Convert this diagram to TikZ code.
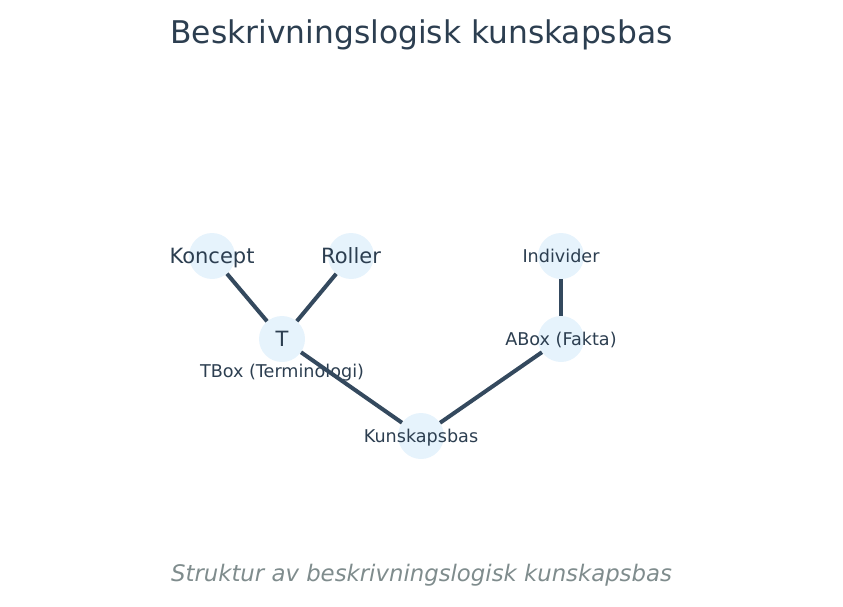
\documentclass[tikz,border=0pt]{standalone}
\usepackage{fontspec}
\setmainfont{DejaVu Sans}
\usepackage{tikz}
\definecolor{ink}{HTML}{2C3E50}
\definecolor{edge}{HTML}{34495E}
\definecolor{bubble}{HTML}{E6F3FC}
\definecolor{muted}{HTML}{7F8C8D}
\tikzset{
    dl/.style={circle, fill=bubble, minimum size=46pt, inner sep=0pt},
    bigtxt/.style={text=ink, text height=15.3pt, text depth=0pt, font=\fontsize{21}{21}\selectfont},
    smalltxt/.style={text=ink, text height=12.8pt, text depth=0pt, font=\fontsize{17.6}{17.6}\selectfont},
    link/.style={draw=edge, line width=4pt}
}
\begin{document}
\begin{tikzpicture}[x=1pt, y=-1pt]
    \useasboundingbox (0,0) rectangle (843,607);
    \node[text=ink, text height=22.8pt, text depth=0pt, font=\fontsize{31.3}{31.3}\selectfont] (title) at (421.5,32) {Beskrivningslogisk kunskapsbas};
    \node[dl, label={[bigtxt]center:Koncept}] (koncept) at (212,256) {};
    \node[dl, label={[bigtxt]center:Roller}] (roller) at (351,256) {};
    \node[dl, label={[bigtxt]center:T}] (tbox) at (282,339) {};
    \node[dl, label={[smalltxt]center:Individer}] (individer) at (561,256) {};
    \node[dl, label={[smalltxt]center:ABox (Fakta)}] (abox) at (561,339) {};
    \node[dl, label={[smalltxt]center:Kunskapsbas}] (kb) at (421,436) {};
    \node[smalltxt] (tboxname) at (282,371) {TBox (Terminologi)};
    \draw[link] (koncept) -- (tbox);
    \draw[link] (roller) -- (tbox);
    \draw[link] (tbox) -- (kb);
    \draw[link] (individer) -- (abox);
    \draw[link] (abox) -- (kb);
    \node[text=muted, text height=16.6pt, text depth=0pt, font=\fontsize{22.8}{22.8}\selectfont\itshape] (caption) at (421.5,573) {Struktur av beskrivningslogisk kunskapsbas};
\end{tikzpicture}
\end{document}
